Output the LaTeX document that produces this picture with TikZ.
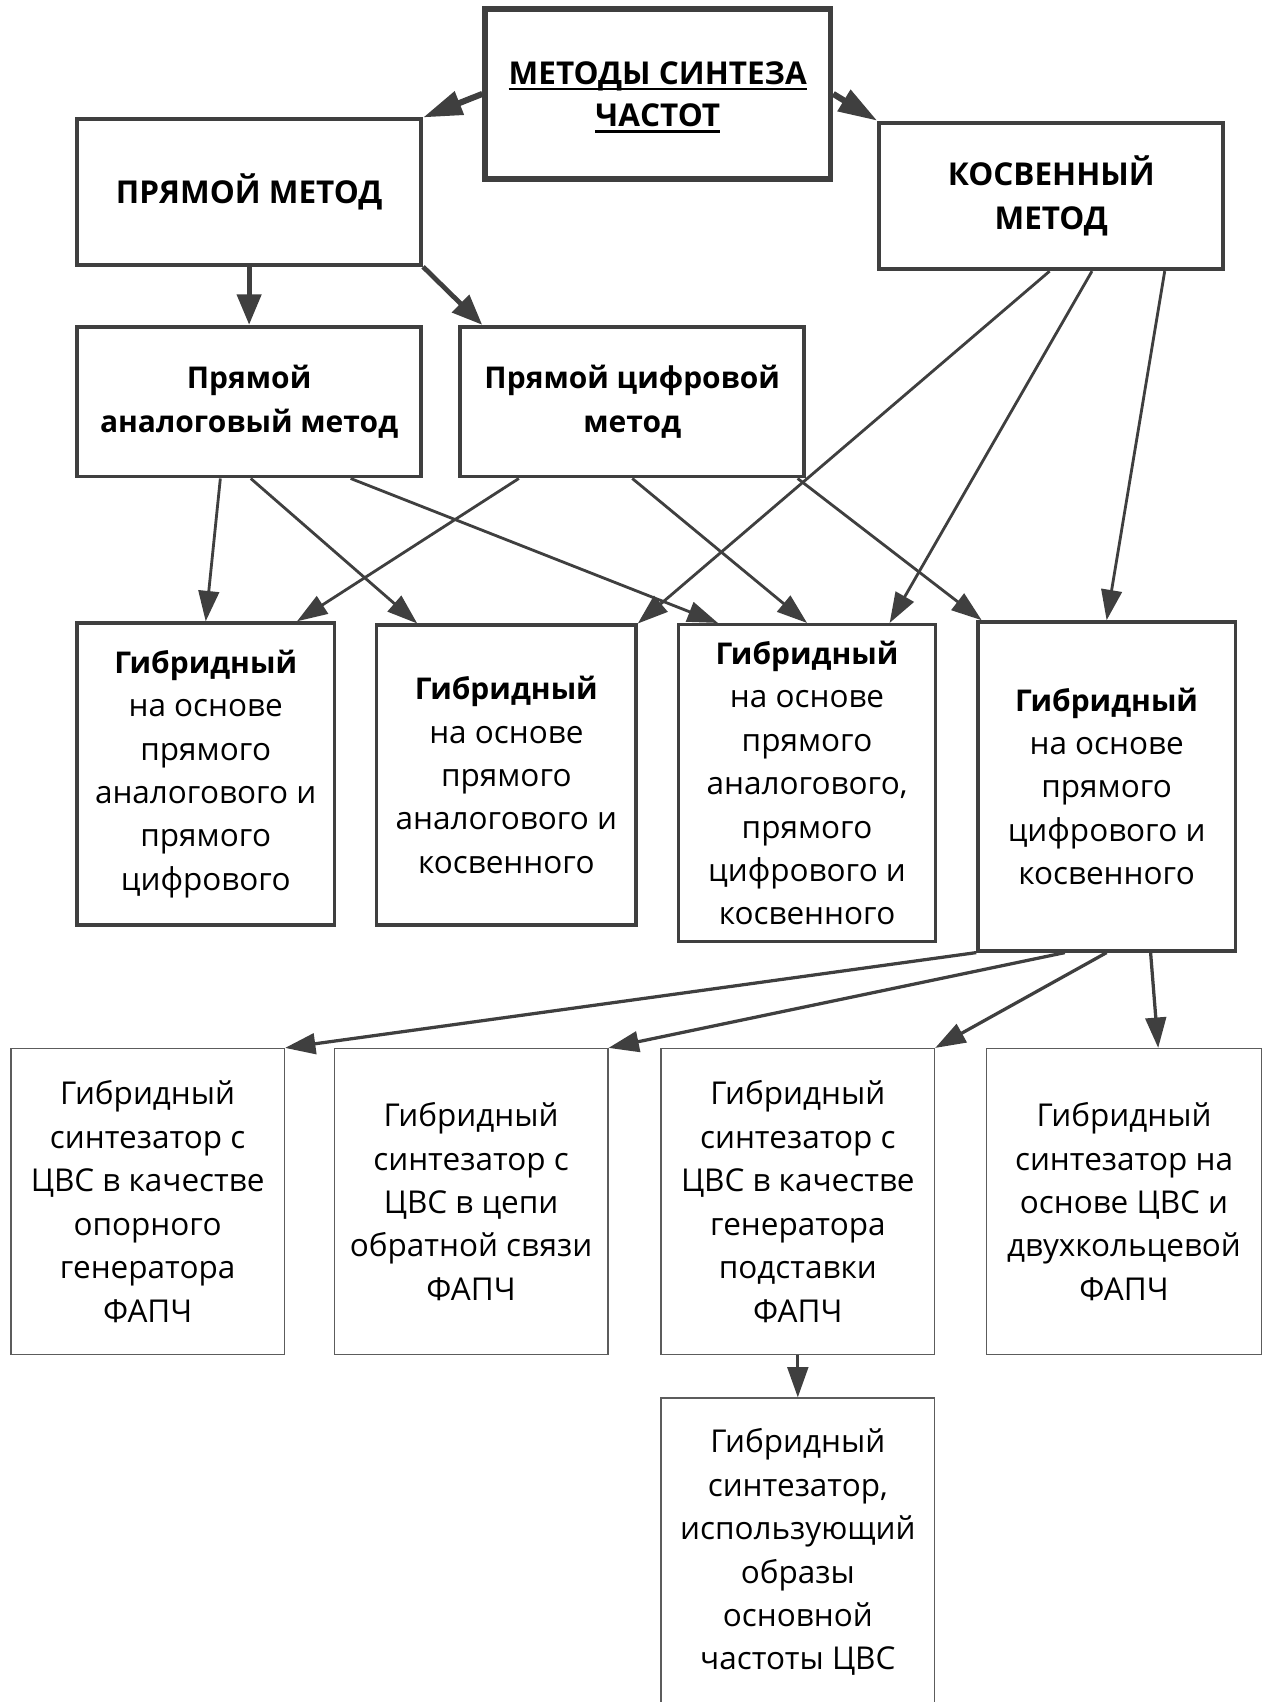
\documentclass[tikz,border=0pt]{standalone}
\usepackage{fontspec}
\setmainfont{Open Sans}
\usetikzlibrary{arrows.meta,calc}
\definecolor{ln}{HTML}{3F3F3F}
\newcommand\myul[1]{\setbox0\hbox{#1}\rlap{\rule[-2.6pt]{\wd0}{1.2pt}}\box0}
\tikzset{
 base/.style={draw=ln, align=center, inner sep=0pt, fill=white, text=black, font=\fontsize{14.5}{20}\selectfont},
 topbox/.style={base, line width=2.6pt},
 toptext/.style={align=center, inner sep=0pt, text=black, font=\fontsize{14.5}{19.5}\selectfont\bfseries},
 midbox/.style={base, line width=1.8pt, font=\fontsize{14.5}{20.5}\selectfont\bfseries},
 midboxs/.style={base, line width=1.8pt, font=\fontsize{13.8}{20.5}\selectfont\bfseries},
 hybbox/.style={base, line width=1.6pt},
 lowbox/.style={base, line width=0.6pt, draw=ln!85},
 bigarr/.style={draw=ln, line width=2.8pt, -{Triangle[length=18pt,width=11pt]}},
 arr/.style={draw=ln, line width=1.3pt, -{Triangle[length=14pt,width=9.5pt]}},
 medarr/.style={draw=ln, line width=2.2pt, -{Triangle[length=14pt,width=11pt]}},
 lowarr/.style={draw=ln, line width=1.5pt, -{Triangle[length=14pt,width=9.5pt]}},
}
\newcommand\hyb{{\fontsize{13.8}{20}\selectfont\bfseries Гибридный}}
\begin{document}
\begin{tikzpicture}[x=0.5pt,y=-0.5pt]
\useasboundingbox (0,0) rectangle (1168,1568);
% level 0
\node[topbox, minimum width=159pt, minimum height=78.5pt] (T) at (606,86.5) {};
\node[toptext] (Tt) at (606,89.5) {\myul{МЕТОДЫ СИНТЕЗА}\\\myul{ЧАСТОТ}};
% level 1
\node[midbox, minimum width=158.5pt, minimum height=67pt] (P) at (229.5,177) {ПРЯМОЙ МЕТОД};
\node[midbox, minimum width=158.5pt, minimum height=67.5pt] (K) at (968.5,180.5) {КОСВЕННЫЙ\\МЕТОД};
% level 2
\node[midboxs, minimum width=158.5pt, minimum height=69pt] (PA) at (229.5,370) {Прямой\\аналоговый метод};
\node[midboxs, minimum width=158.5pt, minimum height=69pt] (PC) at (582.5,370) {Прямой цифровой\\метод};
% level 3
\node[hybbox, minimum width=118.5pt, minimum height=139pt] (H1) at (189.5,713)
  {\hyb\\на основе\\прямого\\аналогового и\\прямого\\цифрового};
\node[hybbox, minimum width=119.5pt, minimum height=138pt] (H2) at (466.5,714)
  {\hyb\\на основе\\прямого\\аналогового и\\косвенного};
\node[hybbox, minimum width=118.5pt, minimum height=146pt] (H3) at (743.5,721.5)
  {\hyb\\на основе\\прямого\\аналогового,\\прямого\\цифрового и\\косвенного};
\node[hybbox, minimum width=118.5pt, minimum height=151.5pt] (H4) at (1019.5,724.5)
  {\hyb\\на основе\\прямого\\цифрового и\\косвенного};
% level 4
\node[lowbox, minimum width=126pt, minimum height=141pt] (B1) at (136,1107)
  {Гибридный\\синтезатор с\\ЦВС в качестве\\опорного\\генератора\\ФАПЧ};
\node[lowbox, minimum width=126pt, minimum height=141pt] (B2) at (434,1107)
  {Гибридный\\синтезатор с\\ЦВС в цепи\\обратной связи\\ФАПЧ};
\node[lowbox, minimum width=126pt, minimum height=141pt] (B3) at (735,1107)
  {Гибридный\\синтезатор с\\ЦВС в качестве\\генератора\\подставки\\ФАПЧ};
\node[lowbox, minimum width=126.5pt, minimum height=141pt] (B4) at (1035.5,1107)
  {Гибридный\\синтезатор на\\основе ЦВС и\\двухкольцевой\\ФАПЧ};
\node[lowbox, minimum width=126pt, minimum height=142pt] (B5) at (735,1430)
  {Гибридный\\синтезатор,\\использующий\\образы\\основной\\частоты ЦВС};
% arrows
\draw[bigarr] (T.west) -- (P.north east);
\draw[bigarr] (T.east) -- (K.north west);
\draw[medarr] (P.south) -- (PA.north);
\draw[medarr] (P.south east) -- ($(PC.north west)+(22,0)$);
\draw[arr] ($(PA.south)+(-26.5,0)$) -- (H1.north);
\draw[arr] ($(PA.south)+(1.5,0)$) -- ($(H2.north west)+(39,0)$);
\draw[arr] ($(PA.south)+(93.5,0)$) -- ($(H3.north west)+(38,0)$);
\draw[arr] ($(PC.south)+(-104.5,0)$) -- ($(H1.north east)+(-36,0)$);
\draw[arr] (PC.south) -- (H3.north);
\draw[arr] ($(PC.south east)+(-8,0)$) -- ($(H4.north west)+(5,0)$);
\draw[arr] ($(K.south)+(-1.5,0)$) -- (H2.north east);
\draw[arr] ($(K.south)+(37.5,0)$) -- ($(H3.north east)+(-44,0)$);
\draw[arr] ($(K.south)+(104.5,0)$) -- (H4.north);
\draw[lowarr] (H4.south west) -- (B1.north east);
\draw[lowarr] ($(H4.south)+(-38.5,0)$) -- (B2.north east);
\draw[lowarr] (H4.south) -- (B3.north east);
\draw[lowarr] ($(H4.south)+(40.5,0)$) -- ($(B4.north)+(31.5,0)$);
\draw[lowarr] (B3.south) -- (B5.north);
\end{tikzpicture}
\end{document}
